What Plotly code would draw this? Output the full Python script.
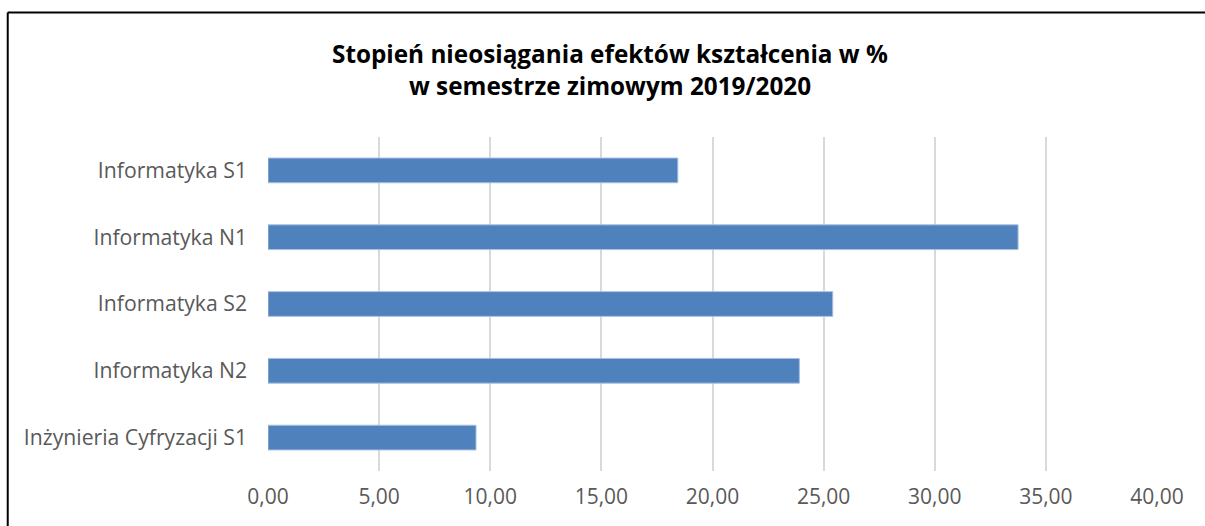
import plotly.graph_objects as go

categories = ["Informatyka S1", "Informatyka N1", "Informatyka S2", "Informatyka N2", "Inżynieria Cyfryzacji S1"]
values = [18.44, 33.75, 25.41, 23.91, 9.36]
x_ticks = [0, 5, 10, 15, 20, 25, 30, 35, 40]
title_lines = ["Stopień nieosiągania efektów kształcenia w %", "w semestrze zimowym 2019/2020"]

FONT = "Open Sans"
fig = go.Figure(go.Bar(
    x=values, y=categories, orientation="h",
    marker=dict(color="#4F81BD", line=dict(color="#A7BFE0", width=1)),
    hoverinfo="x+y",
))

fx0 = (7 - 267.5) / 889.8
fy1 = (471 - 12.5) / 334
fig.update_layout(
    width=1205, height=526,
    margin=dict(l=267.5, r=47.7, t=137, b=55),
    paper_bgcolor="white", plot_bgcolor="white",
    separators=", ",
    bargap=0.63,
    showlegend=False,
    font=dict(family=FONT, color="#595959", size=21.2),
    xaxis=dict(range=[0, 40], tickvals=x_ticks, tickformat=".2f",
               showgrid=True, gridcolor="#D9D9D9", gridwidth=1.5,
               zeroline=False, showline=False, ticks="",
               tickfont=dict(size=21),
               ticklabelstandoff=11, fixedrange=True),
    yaxis=dict(categoryorder="array", categoryarray=categories, autorange="reversed",
               showgrid=False, zeroline=False, showline=False, ticks="",
               ticklabelstandoff=20, fixedrange=True),
    annotations=[
        dict(text="<b>" + title_lines[0] + "</b>", xref="paper", yref="paper",
             x=(610 - 267.5) / 889.8, y=(471 - 53) / 334, xanchor="center", yanchor="middle",
             showarrow=False, font=dict(family=FONT, size=24.3, color="black")),
        dict(text="<b>" + title_lines[1] + "</b>", xref="paper", yref="paper",
             x=(610 - 267.5) / 889.8, y=(471 - 85) / 334, xanchor="center", yanchor="middle",
             showarrow=False, font=dict(family=FONT, size=24.3, color="black")),
    ],
    shapes=[
        dict(type="line", xref="paper", yref="paper", x0=fx0, x1=1.3, y0=fy1, y1=fy1,
             line=dict(color="black", width=2), layer="above"),
        dict(type="line", xref="paper", yref="paper", x0=fx0, x1=fx0, y0=-0.4, y1=fy1,
             line=dict(color="black", width=2), layer="above"),
    ],
)

fig.write_html("out.html", config={"displayModeBar": False},
               post_script="document.body.style.margin='0';document.body.style.overflow='hidden';")
